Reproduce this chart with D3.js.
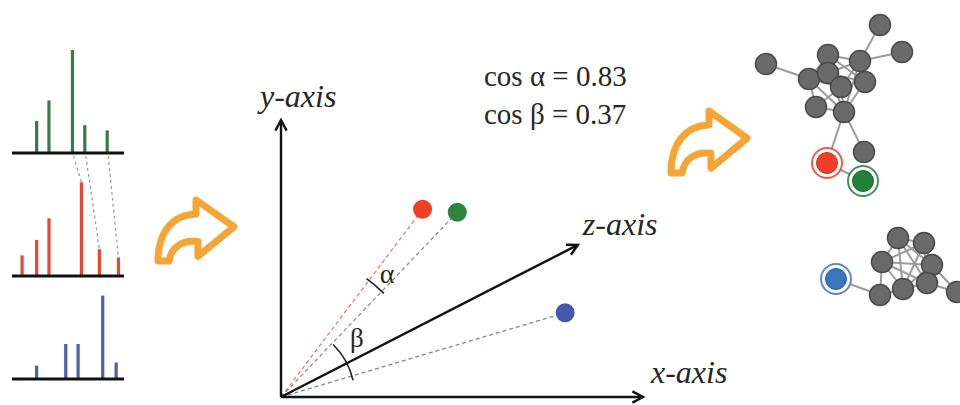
<!DOCTYPE html>
<html><head><meta charset="utf-8">
<script src="https://cdn.jsdelivr.net/npm/d3@7"></script>
</head><body style="margin:0">
<svg id="chart" width="960" height="405" style="display:block"></svg>
<script>
// ---- Spectra: peak positions (m/z) and relative intensities ----
const greenMz  = [22, 33, 54, 65, 85];
const greenInt = [31, 51, 100, 27, 22];
const redMz    = [9, 22, 33, 62, 78, 95];
const redInt   = [20, 35, 56, 91, 26, 18];
const blueMz   = [22, 48, 59, 81, 93];
const blueInt  = [13, 34, 34, 81, 16];
// matched peaks between the green and red spectra: [green index, red index]
const peakMatches = [[2, 3], [3, 4], [4, 5]];

// ---- Spectrum vectors in the projected space ----
const vecNames = ["red", "green", "blue"];
const vecX = [0.391, 0.487, 0.785];
const vecY = [0.678, 0.667, 0.304];
const zAxisEnd = [0.82, 0.549];
const cosLabels = ["cos α = 0.83", "cos β = 0.37"];
const axisLabels = ["x-axis", "y-axis", "z-axis"];

// ---- Similarity networks (layout units) ----
const net1Id   = ["n1","n2","n3","n4","n5","n6","n7","n8","n9","n10","n11","n12","red","green"];
const net1X    = [60, 71, 3, 34, 50, 24.5, 34, 40.5, 52.5, 28, 42, 52, 33.5, 51.5];
const net1Y    = [5, 18.5, 24.5, 20, 23, 32, 29, 36, 33.5, 46, 48.5, 68.5, 74, 83];
const net1Links = [
  ["n1","n5"],["n2","n5"],["n3","n6"],["n4","n5"],["n4","n6"],["n4","n7"],["n4","n8"],["n4","n9"],
  ["n5","n7"],["n5","n8"],["n5","n9"],["n5","n11"],["n6","n7"],["n6","n8"],["n6","n10"],["n6","n11"],
  ["n7","n8"],["n7","n9"],["n7","n11"],["n8","n10"],["n8","n11"],["n9","n11"],["n10","n11"],
  ["n11","red"],["n11","n12"],["red","green"]
];
const net2Id   = ["blue","a","b","c","d","e","f","g","h"];
const net2X    = [38, 69, 82, 61, 86, 60, 71.5, 83.5, 98.5];
const net2Y    = [132, 111.5, 114, 123.5, 125, 140, 137, 134, 138.5];
const net2Links = [
  ["blue","e"],["a","b"],["a","c"],["a","d"],["a","f"],["a","g"],["b","c"],["b","d"],["b","f"],["b","g"],
  ["c","d"],["c","e"],["c","f"],["c","g"],["d","f"],["d","g"],["e","f"],["f","g"],["e","g"],["g","h"],["d","h"]
];

const svg = d3.select("#chart");
const colors = {
  red: "#ec4128", green: "#2f8540", blue: "#4459ad",
  barGreen: "#3a7b45", barRed: "#e9472f", barBlue: "#4c5fa8",
  netRed: "#f23d28", netGreen: "#1f8238", netBlue: "#3a76bd",
  orange: "#f5a535"
};

// vector-space scales (needed for label placement)
const vx = d3.scaleLinear().domain([0, 1]).range([281, 643]);
const vy = d3.scaleLinear().domain([0, 1]).range([397, 120]);
const ox = vx(0), oy = vy(0);
const angOf = i => Math.atan2(vy(vecY[i]) - oy, vx(vecX[i]) - ox);
const polar = (r, a) => [ox + r * Math.cos(a), oy + r * Math.sin(a)];
const axes = [
  {x: vx(1), y: vy(0)},
  {x: vx(0), y: vy(1)},
  {x: vx(zAxisEnd[0]), y: vy(zAxisEnd[1])}
];

// ================= Text layer =================
const textLayer = svg.append("g");
function label(x, y, t, size, italic, anchor) {
  textLayer.append("text").attr("x", x).attr("y", y)
    .style("font-family", "'Liberation Serif'")
    .attr("font-size", size)
    .attr("font-style", italic ? "italic" : null)
    .attr("text-anchor", anchor || null)
    .attr("fill", "#262626").text(t);
}
cosLabels.forEach((t, i) => label(484, 86 + i * 38, t, 29));
const labelPos = [
  [axes[0].x + 8, axes[0].y - 14],
  [vx(0) - 21, vy(1) - 13],
  [axes[2].x + 5, axes[2].y - 10]
];
axisLabels.forEach((t, i) => label(labelPos[i][0], labelPos[i][1], t, 32, true));
const [alx, aly] = polar(162, (angOf(0) + angOf(1)) / 2 + 0.01);
label(alx, aly + 8, "α", 28, false, "middle");
const [blx, bly] = polar(96, -0.66);
label(blx, bly + 9, "β", 27, false, "middle");

// ================= Spectra =================
const sx = d3.scaleLinear().domain([0, 100]).range([12, 124]);
const panels = [
  {mz: greenMz, val: greenInt, color: colors.barGreen, base: 153},
  {mz: redMz,   val: redInt,   color: colors.barRed,   base: 276},
  {mz: blueMz,  val: blueInt,  color: colors.barBlue,  base: 379}
];
panels.forEach(p => { p.y = d3.scaleLinear().domain([0, 100]).range([p.base, p.base - 103]); });

const spec = svg.append("g");
// dashed links between matched peaks
peakMatches.forEach(([gi, ri]) => {
  spec.append("line")
    .attr("x1", sx(greenMz[gi]) + 1).attr("y1", panels[0].base + 3)
    .attr("x2", sx(redMz[ri])).attr("y2", panels[1].y(redInt[ri]))
    .attr("stroke", "#9a9a9a").attr("stroke-width", 1.2).attr("stroke-dasharray", "3,3");
});
panels.forEach(p => {
  spec.selectAll(null).data(p.mz.map((m, i) => ({m, v: p.val[i]}))).join("rect")
    .attr("x", d => sx(d.m) - 1.6).attr("width", 3.2)
    .attr("y", d => p.y(d.v)).attr("height", d => p.base - p.y(d.v))
    .attr("fill", p.color);
  spec.append("line").attr("x1", sx(0)).attr("x2", sx(100))
    .attr("y1", p.base).attr("y2", p.base)
    .attr("stroke", "#111").attr("stroke-width", 3);
});

// ================= Curved arrows =================
function curvedArrow(x0, y0, w, h) {
  const kx = w / 82, ky = h / 66;
  const pts = s => s.replace(/(-?[\d.]+),(-?[\d.]+)/g, (m, a, b) => (x0 + a * kx).toFixed(1) + "," + (y0 + b * ky).toFixed(1));
  svg.append("path")
    .attr("d", pts("M0,66 C0,34 16,16 41,15 L41,0 L82,29 L43,61 L43,45 C25,43 14,52 12,66 Z"))
    .attr("fill", "#fff").attr("stroke", colors.orange)
    .attr("stroke-width", 7).attr("stroke-linejoin", "round");
}
curvedArrow(158, 200, 76, 61);
curvedArrow(671, 111, 76, 62);

// ================= Vector space =================
const vec = svg.append("g");

function arrowHead(x, y, ang) {
  const L = 12, spread = Math.PI / 6.5;
  const p = d3.path();
  p.moveTo(x - L * Math.cos(ang - spread), y - L * Math.sin(ang - spread));
  p.lineTo(x, y);
  p.lineTo(x - L * Math.cos(ang + spread), y - L * Math.sin(ang + spread));
  vec.append("path").attr("d", p.toString()).attr("fill", "none")
    .attr("stroke", "#111").attr("stroke-width", 2.4).attr("stroke-linejoin", "miter");
}

// dashed lines from the origin to each spectrum vector
const dashCol = {red: "#e9806f", green: "#8c8f8c", blue: "#7784bd"};
vecNames.forEach((n, i) => {
  vec.append("line").attr("x1", ox).attr("y1", oy)
    .attr("x2", vx(vecX[i])).attr("y2", vy(vecY[i]))
    .attr("stroke", dashCol[n]).attr("stroke-width", 1.3).attr("stroke-dasharray", "4,3");
});

// axes
axes.forEach(a => {
  vec.append("line").attr("x1", ox).attr("y1", oy).attr("x2", a.x).attr("y2", a.y)
    .attr("stroke", "#111").attr("stroke-width", 2.4);
  arrowHead(a.x, a.y, Math.atan2(a.y - oy, a.x - ox));
});

// angle arcs
function arcPath(r, a0, a1) {
  const p = d3.path();
  p.moveTo(ox + r * Math.cos(a0), oy + r * Math.sin(a0));
  p.arc(ox, oy, r, a0, a1);
  return p.toString();
}
vec.append("path").attr("d", arcPath(146, angOf(0) - 0.02, angOf(1) + 0.02))
  .attr("fill", "none").attr("stroke", "#222").attr("stroke-width", 1.6);
vec.append("path").attr("d", arcPath(74, angOf(1) + 0.02, angOf(2) + 0.06))
  .attr("fill", "none").attr("stroke", "#222").attr("stroke-width", 1.6);

// points
vecNames.forEach((n, i) => {
  vec.append("circle").attr("cx", vx(vecX[i])).attr("cy", vy(vecY[i])).attr("r", 9.5)
    .attr("fill", colors[n]);
});

// ================= Networks =================
const nx = d3.scaleLinear().domain([0, 100]).range([760, 960]);
const ny = d3.scaleLinear().domain([0, 100]).range([15, 215]);
const highlight = {red: colors.netRed, green: colors.netGreen, blue: colors.netBlue};

function drawNetwork(ids, xs, ys, links) {
  const pos = {};
  ids.forEach((id, i) => pos[id] = [nx(xs[i]), ny(ys[i])]);
  const g = svg.append("g");
  g.selectAll(null).data(links).join("line")
    .attr("x1", d => pos[d[0]][0]).attr("y1", d => pos[d[0]][1])
    .attr("x2", d => pos[d[1]][0]).attr("y2", d => pos[d[1]][1])
    .attr("stroke", "#9b9b9b").attr("stroke-width", 2);
  ids.forEach(id => {
    const [x, y] = pos[id];
    if (highlight[id]) {
      g.append("circle").attr("cx", x).attr("cy", y).attr("r", 15)
        .attr("fill", "#fff").attr("stroke", highlight[id]).attr("stroke-width", 2).attr("stroke-opacity", 0.85);
      g.append("circle").attr("cx", x).attr("cy", y).attr("r", 10.5)
        .attr("fill", highlight[id]).attr("stroke", d3.color(highlight[id]).darker(0.6)).attr("stroke-width", 1);
    } else {
      g.append("circle").attr("cx", x).attr("cy", y).attr("r", 10.5)
        .attr("fill", "#6a6a6a").attr("stroke", "#4a4a4a").attr("stroke-width", 1.5);
    }
  });
}
drawNetwork(net1Id, net1X, net1Y, net1Links);
drawNetwork(net2Id, net2X, net2Y, net2Links);
</script>
</body></html>
